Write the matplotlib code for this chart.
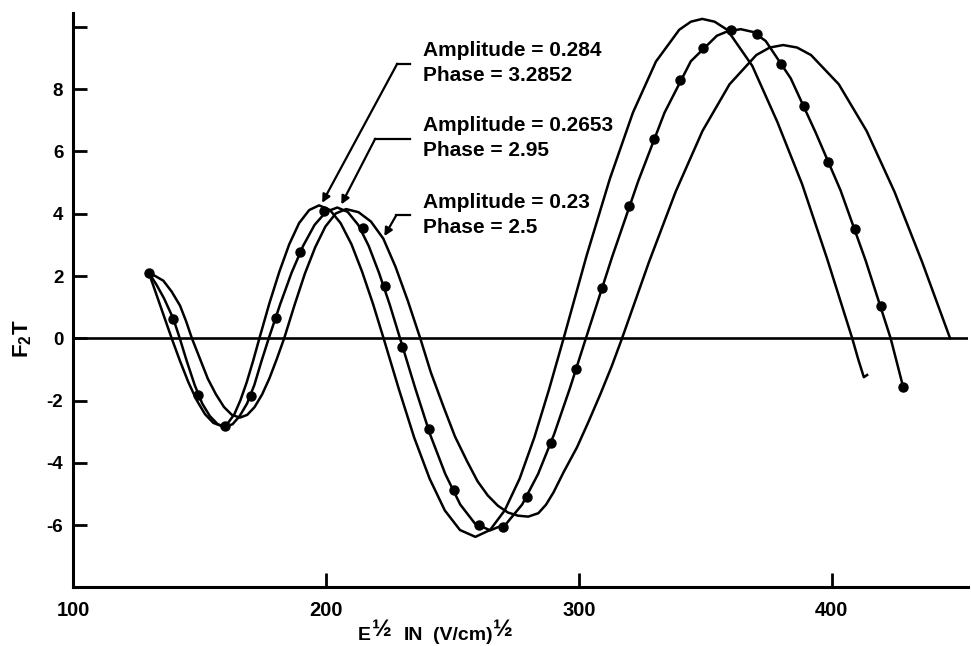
import matplotlib
matplotlib.use("Agg")
import matplotlib.pyplot as plt

plt.rcParams['font.family'] = ['Liberation Sans', 'DejaVu Sans']
plt.rcParams['font.weight'] = 'bold'
plt.rcParams['mathtext.fontset'] = 'custom'
plt.rcParams['mathtext.rm'] = 'Liberation Sans:bold'
plt.rcParams['mathtext.it'] = 'Liberation Sans:bold'
plt.rcParams['mathtext.bf'] = 'Liberation Sans:bold'

# fit curve, amplitude 0.284 / phase 3.2852
curve_a_x = [130.0, 131.5, 133.0, 134.5, 136.0, 137.5, 139.0, 142.3, 145.6, 148.9, 152.2, 155.5,
             158.8, 161.3, 163.8, 166.2, 168.7, 171.2, 173.7, 177.6, 181.6, 185.5, 189.4, 193.4,
             197.3, 201.6, 205.8, 210.1, 214.3, 218.6, 222.8, 228.9, 234.9, 241.0, 247.0, 253.0,
             259.1, 264.9, 270.7, 276.6, 282.4, 288.2, 294.0, 303.1, 312.3, 321.4, 330.5, 339.7,
             344.3, 348.8, 353.7, 358.7, 368.6, 378.5, 388.3, 398.2, 408.1, 410.5, 412.7, 414.0]
curve_a_y = [2.09, 1.75, 1.40, 1.05, 0.70, 0.35, 0.0, -0.73, -1.41, -1.99, -2.44, -2.72,
             -2.82, -2.72, -2.44, -1.99, -1.41, -0.73, 0.0, 1.11, 2.14, 3.02, 3.70, 4.12,
             4.27, 4.12, 3.70, 3.02, 2.14, 1.11, 0.0, -1.65, -3.19, -4.51, -5.53, -6.16,
             -6.38, -6.16, -5.53, -4.51, -3.19, -1.65, 0.0, 2.66, 5.13, 7.25, 8.89, 9.91,
             10.17, 10.26, 10.17, 9.91, 8.75, 6.95, 4.95, 2.55, 0.0, -0.68, -1.25, -1.18]

# fit curve, amplitude 0.2653 / phase 2.95
curve_b_x = [130.1, 133.0, 136.0, 139.7, 142.2, 145.0, 148.1, 151.1, 154.1, 157.2, 160.2, 163.1,
             165.9, 168.8, 171.7, 174.5, 177.4, 181.9, 186.4, 191.0, 195.5, 200.0, 204.5, 208.6,
             212.8, 216.9, 221.0, 225.2, 229.3, 235.3, 241.2, 247.2, 253.1, 259.0, 265.0, 271.3,
             277.6, 283.9, 290.2, 296.5, 302.8, 313.2, 323.5, 333.9, 344.3, 354.6, 358.8, 364.0,
             368.9, 373.9, 383.8, 393.7, 403.5, 413.4, 423.3, 428.2]
curve_b_y = [2.09, 1.72, 1.28, 0.62, 0.0, -0.74, -1.50, -2.10, -2.50, -2.76, -2.85, -2.76,
             -2.50, -2.10, -1.50, -0.74, 0.0, 1.09, 2.10, 2.97, 3.64, 4.06, 4.20, 4.06,
             3.64, 2.97, 2.10, 1.09, 0.0, -1.60, -3.09, -4.36, -5.34, -5.96, -6.17, -5.96,
             -5.34, -4.36, -3.09, -1.60, 0.0, 2.62, 5.05, 7.25, 8.90, 9.72, 9.86, 9.93,
             9.84, 9.55, 8.35, 6.60, 4.75, 2.50, 0.0, -1.55]

# fit curve, amplitude 0.23 / phase 2.5
curve_c_x = [130.1, 132.5, 135.7, 139.0, 142.3, 144.7, 147.0, 150.2, 153.3, 156.5, 159.7, 162.8,
             166.0, 168.9, 171.8, 174.8, 177.7, 180.6, 183.5, 187.6, 191.7, 195.8, 199.8, 203.9,
             208.0, 212.9, 217.8, 222.7, 227.5, 232.4, 237.3, 241.5, 246.5, 251.0, 255.8, 260.0,
             264.0, 268.0, 272.0, 276.0, 280.0, 284.0, 287.0, 290.0, 294.0, 299.3, 304.0, 308.5,
             313.0, 317.1, 327.7, 338.3, 348.9, 359.6, 370.2, 375.5, 380.8, 386.3, 391.8, 402.8,
             413.8, 424.8, 435.8, 446.8]
curve_c_y = [2.09, 2.00, 1.85, 1.50, 1.05, 0.55, 0.0, -0.66, -1.30, -1.80, -2.21, -2.46,
             -2.55, -2.46, -2.21, -1.80, -1.28, -0.66, 0.0, 1.07, 2.08, 2.93, 3.59, 4.01,
             4.15, 4.05, 3.75, 3.20, 2.30, 1.20, 0.0, -1.10, -2.20, -3.15, -3.95, -4.60,
             -5.05, -5.38, -5.60, -5.70, -5.73, -5.62, -5.35, -4.95, -4.30, -3.50, -2.65, -1.80,
             -0.90, 0.0, 2.44, 4.71, 6.66, 8.16, 9.10, 9.34, 9.42, 9.34, 9.10, 8.16,
             6.66, 4.71, 2.44, 0.0]

# measured points
dots_x = [130.1, 139.7, 149.3, 160.2, 170.4, 180.2, 189.8, 199.3, 214.6, 223.2, 230.2,
          240.6, 250.5, 260.4, 269.9, 279.5, 289.0, 298.9, 309.2, 319.8, 329.6, 339.9,
          349.2, 360.3, 370.3, 380.0, 389.0, 398.6, 409.3, 419.3, 428.2]
dots_y = [2.09, 0.62, -1.82, -2.83, -1.86, 0.64, 2.78, 4.09, 3.55, 1.69, -0.29,
          -2.93, -4.87, -6.00, -6.06, -5.10, -3.36, -0.98, 1.60, 4.25, 6.39, 8.29,
          9.33, 9.89, 9.78, 8.82, 7.46, 5.66, 3.50, 1.03, -1.55]

amp_labels = ['Amplitude = 0.284', 'Amplitude = 0.2653', 'Amplitude = 0.23']
phase_labels = ['Phase = 3.2852', 'Phase = 2.95', 'Phase = 2.5']
arrow_tips = [(198.5, 4.35), (206.1, 4.30), (223.1, 3.28)]
arrow_elbows = [(228.2, 8.82), (219.5, 6.41), (227.8, 3.95)]

x_ticks = [100, 200, 300, 400]
y_ticks = [-6, -4, -2, 0, 2, 4, 6, 8, 10]
y_ticklabels = ['-6', '-4', '-2', '0', '2', '4', '6', '8', '']

fig = plt.figure(figsize=(9.71, 6.46), dpi=100)
ax = fig.add_axes([0.0752, 0.0909, 0.922, 0.889])

lw = 1.8
ax.plot(curve_a_x, curve_a_y, color='black', lw=lw)
ax.plot(curve_b_x, curve_b_y, color='black', lw=lw)
ax.plot(curve_c_x, curve_c_y, color='black', lw=lw)
ax.plot(dots_x, dots_y, 'o', color='black', ms=6.5)
ax.axhline(0, color='black', lw=1.9)

# leaders from the labels to the curves
end_x = 233.4
for tip, elbow in zip(arrow_tips, arrow_elbows):
    ax.plot([elbow[0], end_x], [elbow[1], elbow[1]], color='black', lw=1.6)
    ax.annotate('', xy=tip, xytext=elbow,
                arrowprops=dict(arrowstyle='-|>', color='black', lw=1.6,
                                mutation_scale=12, shrinkA=0, shrinkB=0))

for amp, phase, elbow in zip(amp_labels, phase_labels, arrow_elbows):
    ax.text(238.5, elbow[1] + 0.42, amp, fontsize=15, fontweight='bold', va='center', ha='left')
    ax.text(238.5, elbow[1] - 0.38, phase, fontsize=15, fontweight='bold', va='center', ha='left')

ax.set_xlim(100, 454)
ax.set_ylim(-8, 10.45)
ax.spines['top'].set_visible(False)
ax.spines['right'].set_visible(False)
ax.spines['left'].set_linewidth(2.2)
ax.spines['bottom'].set_linewidth(2.2)

ax.set_xticks(x_ticks)
ax.set_yticks(y_ticks)
ax.set_yticklabels(y_ticklabels)
ax.tick_params(axis='both', direction='in', length=10, width=2)
ax.tick_params(axis='y', pad=7, labelsize=13.5)
ax.tick_params(axis='x', pad=10, labelsize=14.5)
for lab in ax.get_xticklabels() + ax.get_yticklabels():
    lab.set_fontweight('bold')

# x label built from pieces so the 1/2 can sit raised
t1 = ax.text(0.318, -0.092, 'E', transform=ax.transAxes, fontsize=14,
             fontweight='bold', va='baseline', ha='left')
t2 = ax.annotate('½', xy=(1, 0), xycoords=t1, xytext=(0.5, 2), textcoords='offset points',
                 fontsize=17, fontweight='bold', va='bottom', ha='left')
t3 = ax.annotate('IN', xy=(1, 0), xycoords=(t2, t1), xytext=(9, 0), textcoords='offset points',
                 fontsize=14, fontweight='bold', va='bottom', ha='left')
t4 = ax.annotate('(V/cm)', xy=(1, 0), xycoords=(t3, t1), xytext=(7, 0), textcoords='offset points',
                 fontsize=14, fontweight='bold', va='bottom', ha='left')
t5 = ax.annotate('½', xy=(1, 0), xycoords=(t4, t1), xytext=(0, 2), textcoords='offset points',
                 fontsize=17, fontweight='bold', va='bottom', ha='left')

ax.set_ylabel(r'F$_{\rm 2}$T', fontsize=16, fontweight='bold')
ax.yaxis.set_label_coords(-0.044, 0.432)

fig.savefig('out.png', dpi=100)
